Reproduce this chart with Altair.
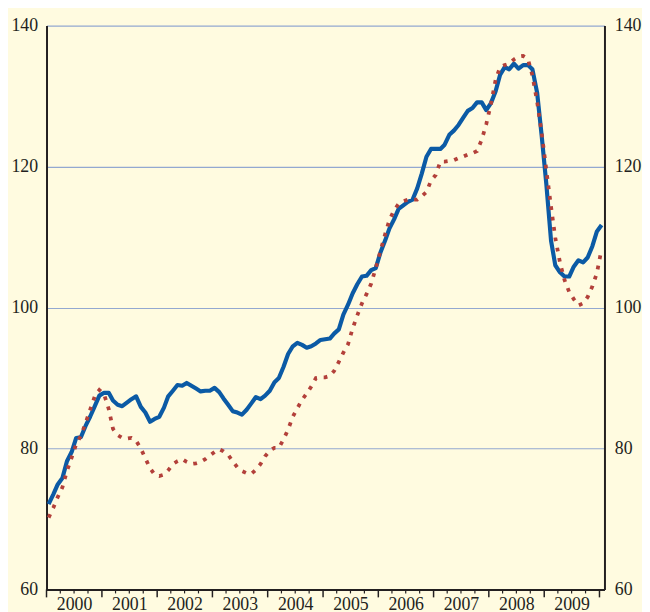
import altair as alt
import pandas as pd

# Monthly index values, Jan 2000 .. Jan 2010 (plotted mid-month)
blue_vals = [
    72.1, 73.5, 74.9, 75.8, 78.2, 79.5, 81.5, 81.6, 83.2, 84.5, 86.0, 87.5,
    87.9, 87.9, 86.8, 86.2, 86.0, 86.5, 87.0, 87.4, 85.9, 85.1, 83.8, 84.2,
    84.5, 85.8, 87.4, 88.2, 89.0, 88.9, 89.3, 88.9, 88.5, 88.1, 88.2, 88.2,
    88.6, 88.0, 87.1, 86.2, 85.3, 85.1, 84.8, 85.5, 86.4, 87.3, 87.0, 87.5,
    88.2, 89.4, 90.0, 91.6, 93.4, 94.5, 95.0, 94.7, 94.3, 94.5, 94.9, 95.4,
    95.5, 95.6, 96.3, 96.9, 99.0, 100.4, 102.0, 103.3, 104.4, 104.5, 105.3, 105.6,
    107.8, 109.5, 111.2, 112.5, 114.0, 114.5, 115.0, 115.3, 116.9, 119.0, 121.4, 122.5,
    122.5, 122.5, 123.1, 124.5, 125.1, 125.9, 126.9, 127.9, 128.3, 129.1, 129.1, 128.0,
    129.0, 130.7, 133.0, 134.1, 133.8, 134.6, 133.9, 134.4, 134.4, 133.8, 130.5, 124.4,
    117.5, 109.5, 106.0, 105.0, 104.4, 104.4, 105.8, 106.7, 106.4, 107.1, 108.7, 110.8,
    111.7,
]
red_vals = [
    70.2, 71.6, 73.1, 74.5, 76.8, 78.7, 80.6, 81.8, 83.6, 85.5, 87.4, 88.3,
    87.7, 85.6, 82.8, 81.9, 81.5, 81.4, 81.5, 81.1, 80.0, 78.6, 77.2, 76.3,
    76.1, 76.3, 76.9, 77.8, 78.2, 78.5, 78.1, 77.8, 77.9, 78.1, 78.5, 79.0,
    79.5, 79.9, 79.6, 79.1, 78.2, 77.3, 76.8, 76.5, 76.4, 77.0, 77.8, 78.9,
    79.7, 80.1, 80.1, 81.3, 82.7, 84.5, 85.7, 86.9, 87.8, 88.8, 90.0, 90.1,
    90.1, 90.3, 91.0, 92.3, 93.6, 94.8, 97.0, 98.9, 100.6, 101.9, 103.4, 105.6,
    108.0, 110.4, 112.4, 113.8, 114.7, 115.1, 115.3, 115.3, 115.3, 115.8, 116.4, 118.0,
    118.8, 120.7, 120.7, 120.8, 120.9, 121.2, 121.4, 121.7, 121.9, 122.2, 123.8, 126.0,
    128.9, 132.3, 134.1, 134.4, 134.6, 135.2, 135.6, 135.7, 135.3, 132.9, 129.2, 124.8,
    119.5, 114.3, 109.9, 106.4, 103.9, 102.2, 101.2, 100.3, 100.6, 101.5, 103.0, 104.9,
    108.3,
]
years = list(range(2000, 2010))
y_ticks = [60, 80, 100, 120, 140]

W, H = 565, 571
FONT = "Liberation Serif"
INK = "#231f20"

months = pd.date_range("2000-01-01", periods=len(blue_vals), freq="MS") + pd.Timedelta(days=14)
df = pd.DataFrame({"date": months, "blue": blue_vals, "red": red_vals})

year_tick_df = pd.DataFrame({"date": pd.date_range("2000-01-01", "2010-01-01", freq="YS")})
q_dates = [pd.Timestamp(year=y, month=m, day=1) for y in years for m in (4, 7, 10)]
quarter_tick_df = pd.DataFrame({"date": q_dates})

xscale = alt.Scale(
    domain=[alt.DateTime(year=2000, month=1, date=1), alt.DateTime(year=2010, month=2, date=3)],
    nice=False,
)
yscale = alt.Scale(domain=[60, 140], nice=False, zero=False)

x_axis = alt.Axis(
    values=[alt.DateTime(year=y, month=7, date=1) for y in years],
    format="%Y",
    ticks=False,
    tickSize=0,
    labelPadding=6,
    labelOverlap=False,
    grid=False,
    domainColor=INK,
    domainWidth=2,
)
x_main = alt.X("date:T", scale=xscale, title=None, axis=x_axis)

blue = alt.Chart(df).mark_line(color="#0B5AA5", strokeWidth=4.2, strokeJoin="round").encode(
    x=x_main,
    y=alt.Y(
        "blue:Q",
        scale=yscale,
        title=None,
        axis=alt.Axis(
            orient="left",
            values=y_ticks,
            ticks=False,
            tickSize=0,
            labelPadding=9,
            grid=True,
            gridColor="#93A8D0",
            gridWidth=1.2,
            domainColor=INK,
            domainWidth=2,
        ),
    ),
)

red = alt.Chart(df).mark_line(
    color="#B3403A", strokeWidth=3.8, strokeDash=[3.8, 6.8], strokeCap="butt"
).encode(
    x=x_main,
    y=alt.Y("red:Q", scale=yscale, axis=None),
)

year_ticks = alt.Chart(year_tick_df).mark_rule(color=INK, strokeWidth=1.5).encode(
    x=x_main, y=alt.value(H), y2=alt.value(H + 8)
)
quarter_ticks = alt.Chart(quarter_tick_df).mark_rule(color=INK, strokeWidth=1.2).encode(
    x=x_main, y=alt.value(H), y2=alt.value(H + 4)
)

right_axis = alt.Chart(df).mark_line(opacity=0).encode(
    x=x_main,
    y=alt.Y(
        "blue:Q",
        scale=yscale,
        title=None,
        axis=alt.Axis(
            orient="right",
            values=y_ticks,
            ticks=False,
            tickSize=0,
            labelPadding=10,
            grid=False,
            domainColor=INK,
            domainWidth=2,
        ),
    ),
)

chart = (
    alt.layer(blue, right_axis, red, year_ticks, quarter_ticks)
    .resolve_scale(y="independent")
    .properties(
        width=W,
        height=H,
        background="#FFFBE0",
        autosize=alt.AutoSizeParams(type="none"),
        padding={"left": 39, "top": 14, "right": 38, "bottom": 19},
    )
    .configure_view(stroke=None)
    .configure_axis(
        labelFont=FONT,
        labelFontSize=18,
        labelColor=INK,
    )
)

chart.save("out.html", embed_options={"renderer": "svg", "actions": False})
